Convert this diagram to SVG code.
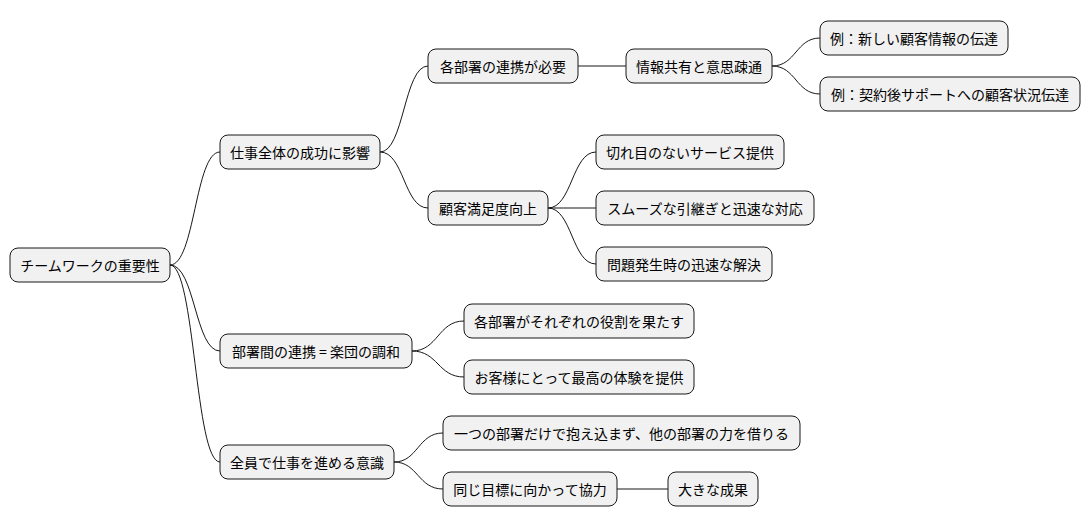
<svg xmlns="http://www.w3.org/2000/svg" width="1090" height="527" viewBox="0 0 1090 527">
<style>
rect{fill:#f1f1f1;stroke:#181818;stroke-width:1}
text{font-family:"Noto Sans CJK JP","Noto Sans",sans-serif;font-size:14px;fill:#000;dominant-baseline:central}
path{fill:none;stroke:#181818;stroke-width:1}
</style>
<rect x="0" y="0" width="1090" height="527" style="fill:#fff;stroke:none"/>
<g id="connectors">
<path d="M170 265 C195 265,195 152,220 152"/>
<path d="M170 265 C195 265,195 351,220 351"/>
<path d="M170 265 C195 265,195 462,220 462"/>
<path d="M380 152 C404 152,404 66,428 66"/>
<path d="M380 152 C404 152,404 208,428 208"/>
<path d="M578 66 L626 66"/>
<path d="M772 66 C796 66,796 38,820 38"/>
<path d="M772 66 C796 66,796 94,820 94"/>
<path d="M548 208 C572 208,572 152,596 152"/>
<path d="M548 208 L596 208"/>
<path d="M548 208 C572 208,572 264,596 264"/>
<path d="M412 351 C438 351,438 321,464 321"/>
<path d="M412 351 C438 351,438 377,464 377"/>
<path d="M394 462 C418 462,418 433,443 433"/>
<path d="M394 462 C418 462,418 489,443 489"/>
<path d="M617 489 L668 489"/>
</g>
<g id="n0"><rect x="10" y="248" width="160" height="34" rx="8"/><text x="90" y="265" text-anchor="middle">チームワークの重要性</text></g>
<g id="n1"><rect x="220" y="135" width="160" height="34" rx="8"/><text x="300" y="152" text-anchor="middle">仕事全体の成功に影響</text></g>
<g id="n2"><rect x="428" y="49" width="150" height="34" rx="8"/><text x="503" y="66" text-anchor="middle">各部署の連携が必要</text></g>
<g id="n3"><rect x="626" y="49" width="146" height="34" rx="8"/><text x="699" y="66" text-anchor="middle">情報共有と意思疎通</text></g>
<g id="n4"><rect x="820" y="21" width="188" height="34" rx="8"/><text x="914" y="38" text-anchor="middle">例：新しい顧客情報の伝達</text></g>
<g id="n5"><rect x="820" y="77" width="260" height="34" rx="8"/><text x="950" y="94" text-anchor="middle">例：契約後サポートへの顧客状況伝達</text></g>
<g id="n6"><rect x="428" y="191" width="120" height="34" rx="8"/><text x="488" y="208" text-anchor="middle">顧客満足度向上</text></g>
<g id="n7"><rect x="596" y="135" width="188" height="34" rx="8"/><text x="690" y="152" text-anchor="middle">切れ目のないサービス提供</text></g>
<g id="n8"><rect x="596" y="191" width="218" height="34" rx="8"/><text x="705" y="208" text-anchor="middle">スムーズな引継ぎと迅速な対応</text></g>
<g id="n9"><rect x="596" y="247" width="176" height="34" rx="8"/><text x="684" y="264" text-anchor="middle">問題発生時の迅速な解決</text></g>
<g id="n10"><rect x="220" y="334" width="192" height="34" rx="8"/><text x="316" y="351" text-anchor="middle">部署間の連携 = 楽団の調和</text></g>
<g id="n11"><rect x="464" y="304" width="230" height="34" rx="8"/><text x="579" y="321" text-anchor="middle">各部署がそれぞれの役割を果たす</text></g>
<g id="n12"><rect x="464" y="360" width="230" height="34" rx="8"/><text x="579" y="377" text-anchor="middle">お客様にとって最高の体験を提供</text></g>
<g id="n13"><rect x="220" y="445" width="174" height="34" rx="8"/><text x="307" y="462" text-anchor="middle">全員で仕事を進める意識</text></g>
<g id="n14"><rect x="443" y="416" width="357" height="34" rx="8"/><text x="621.5" y="433" text-anchor="middle">一つの部署だけで抱え込まず、他の部署の力を借りる</text></g>
<g id="n15"><rect x="443" y="472" width="174" height="34" rx="8"/><text x="530" y="489" text-anchor="middle">同じ目標に向かって協力</text></g>
<g id="n16"><rect x="668" y="472" width="90" height="34" rx="8"/><text x="713" y="489" text-anchor="middle">大きな成果</text></g>
</svg>
